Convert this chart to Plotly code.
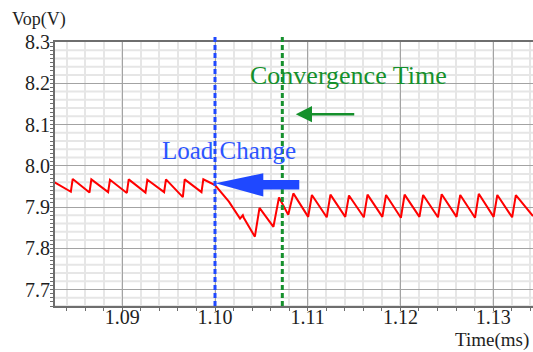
import plotly.graph_objects as go

# ---- data ----
time_ms = [
    1.0827, 1.08445, 1.08465, 1.08646, 1.08666, 1.08847, 1.08867, 1.09049, 1.09069,
    1.09250, 1.09270, 1.09451, 1.09471, 1.09653, 1.09673, 1.09854, 1.09874,
    1.1000, 1.1015, 1.1027, 1.1030, 1.1031, 1.1043, 1.1048, 1.1063, 1.1069, 1.1079,
    1.10845, 1.11005, 1.11045, 1.11205, 1.11245, 1.11405, 1.11445, 1.11605, 1.11645,
    1.11805, 1.11845, 1.12005, 1.12045, 1.12205, 1.12245, 1.12405, 1.12445, 1.12605,
    1.12645, 1.12805, 1.12845, 1.13005, 1.13045, 1.13205, 1.13245, 1.1343,
]
vop_v = [
    7.960, 7.937, 7.968, 7.935, 7.967, 7.936, 7.966, 7.934, 7.967,
    7.935, 7.966, 7.936, 7.967, 7.924, 7.967, 7.936, 7.967,
    7.953, 7.913, 7.872, 7.880, 7.874, 7.828, 7.898, 7.852, 7.923, 7.881,
    7.933, 7.876, 7.929, 7.875, 7.930, 7.876, 7.928, 7.875, 7.930,
    7.876, 7.929, 7.874, 7.930, 7.876, 7.929, 7.875, 7.931, 7.876,
    7.929, 7.874, 7.932, 7.876, 7.929, 7.875, 7.929, 7.878,
]
x_ticks = [1.09, 1.10, 1.11, 1.12, 1.13]
x_tick_labels = ["1.09", "1.10", "1.11", "1.12", "1.13"]
y_ticks = [7.7, 7.8, 7.9, 8.0, 8.1, 8.2, 8.3]
y_tick_labels = ["7.7", "7.8", "7.9", "8.0", "8.1", "8.2", "8.3"]
load_change_t = 1.10
convergence_t = 1.10726

X_RANGE = [1.08274, 1.1343]
Y_RANGE = [7.66, 8.3]

SERIF = "Liberation Serif, Times New Roman, serif"
MAJOR_GRID = "#a3a3a3"
MINOR_GRID = "#e6e6e6"
AXIS_COL = "#6e6e6e"
BLUE = "#1f48ff"
GREEN = "#15902c"
TXT = "#1e1e1e"

fig = go.Figure()
fig.add_trace(go.Scatter(
    x=time_ms, y=vop_v, mode="lines",
    line=dict(color="#ff0000", width=2), hoverinfo="skip", showlegend=False,
))

fig.update_layout(
    width=533, height=352,
    margin=dict(l=55, r=0, t=42, b=46, autoexpand=False),
    paper_bgcolor="white", plot_bgcolor="white",
    showlegend=False,
    font=dict(family=SERIF, size=20, color=TXT),
)

fig.update_xaxes(
    range=X_RANGE, tickvals=x_ticks, ticktext=x_tick_labels, automargin=False,
    showgrid=True, gridcolor=MAJOR_GRID, gridwidth=1,
    showline=True, linecolor=AXIS_COL, linewidth=2, mirror=True,
    ticks="outside", ticklen=3, tickcolor=AXIS_COL, ticklabelstandoff=-11,
    minor=dict(dtick=0.002, tick0=1.08, showgrid=True, gridcolor=MINOR_GRID, gridwidth=2,
               ticks="outside", ticklen=3, tickcolor=AXIS_COL),
    zeroline=False, tickfont=dict(family=SERIF, size=20, color=TXT),
)
fig.update_yaxes(
    range=Y_RANGE, tickvals=y_ticks, ticktext=y_tick_labels, automargin=False,
    showgrid=True, gridcolor=MAJOR_GRID, gridwidth=1,
    showline=True, linecolor=AXIS_COL, linewidth=2,
    ticks="outside", ticklen=3, tickcolor=AXIS_COL, ticklabelstandoff=-4,
    minor=dict(dtick=0.01, tick0=7.6, showgrid=False,
               ticks="outside", ticklen=3, tickcolor=AXIS_COL),
    zeroline=False, tickfont=dict(family=SERIF, size=20, color=TXT),
)

# light horizontal grid every 0.02 V (below major grid)
k = 0
while True:
    yv = 7.66 + 0.02 * k
    if yv > 8.3:
        break
    if abs(round(yv * 10) - yv * 10) > 1e-6:
        fig.add_shape(type="line", xref="paper", x0=0, x1=1, yref="y", y0=yv, y1=yv,
                      line=dict(color=MINOR_GRID, width=2), layer="below")
    k += 1

# vertical dashed markers
fig.add_shape(type="line", xref="x", x0=load_change_t, x1=load_change_t,
              yref="paper", y0=0, y1=1.027,
              line=dict(color=BLUE, width=3, dash="5px,3px"))
fig.add_shape(type="line", xref="x", x0=convergence_t, x1=convergence_t,
              yref="paper", y0=0, y1=1.03,
              line=dict(color=GREEN, width=3, dash="5px,3px"))

# big blue block arrow
fig.add_shape(type="path", xref="x", yref="y",
              path="M 1.10005,7.9575 L 1.10521,7.9818 L 1.10521,7.9655 L 1.10909,7.9655 "
                   "L 1.10909,7.9425 L 1.10521,7.9425 L 1.10521,7.9255 Z",
              fillcolor=BLUE, line=dict(color=BLUE, width=0))

# green arrow
fig.add_annotation(x=1.10871, y=8.125, ax=1.11518, ay=8.125, axref="x", ayref="y",
                   xref="x", yref="y", text="", showarrow=True,
                   arrowhead=2, arrowsize=1.3, arrowwidth=2.5, arrowcolor=GREEN)

# texts
fig.add_annotation(x=1.11443, y=8.218, xref="x", yref="y", text="Convergence Time",
                   showarrow=False, font=dict(family=SERIF, size=26, color=GREEN),
                   xanchor="center", yanchor="middle")
fig.add_annotation(x=1.10151, y=8.036, xref="x", yref="y", text="Load Change",
                   showarrow=False, font=dict(family=SERIF, size=25, color="#2d55ff"),
                   xanchor="center", yanchor="middle")
fig.add_annotation(x=-0.094, y=1.087, xref="paper", yref="paper", text="Vop(V)",
                   showarrow=False, font=dict(family=SERIF, size=18, color=TXT),
                   xanchor="left", yanchor="middle")
fig.add_annotation(x=0.9958, y=-0.129, xref="paper", yref="paper", text="Time(ms)",
                   showarrow=False, font=dict(family=SERIF, size=19, color=TXT),
                   xanchor="right", yanchor="middle")

fig.write_html("out.html", config={"displayModeBar": False},
               post_script="document.body.style.margin='0';document.body.style.overflow='hidden';")
